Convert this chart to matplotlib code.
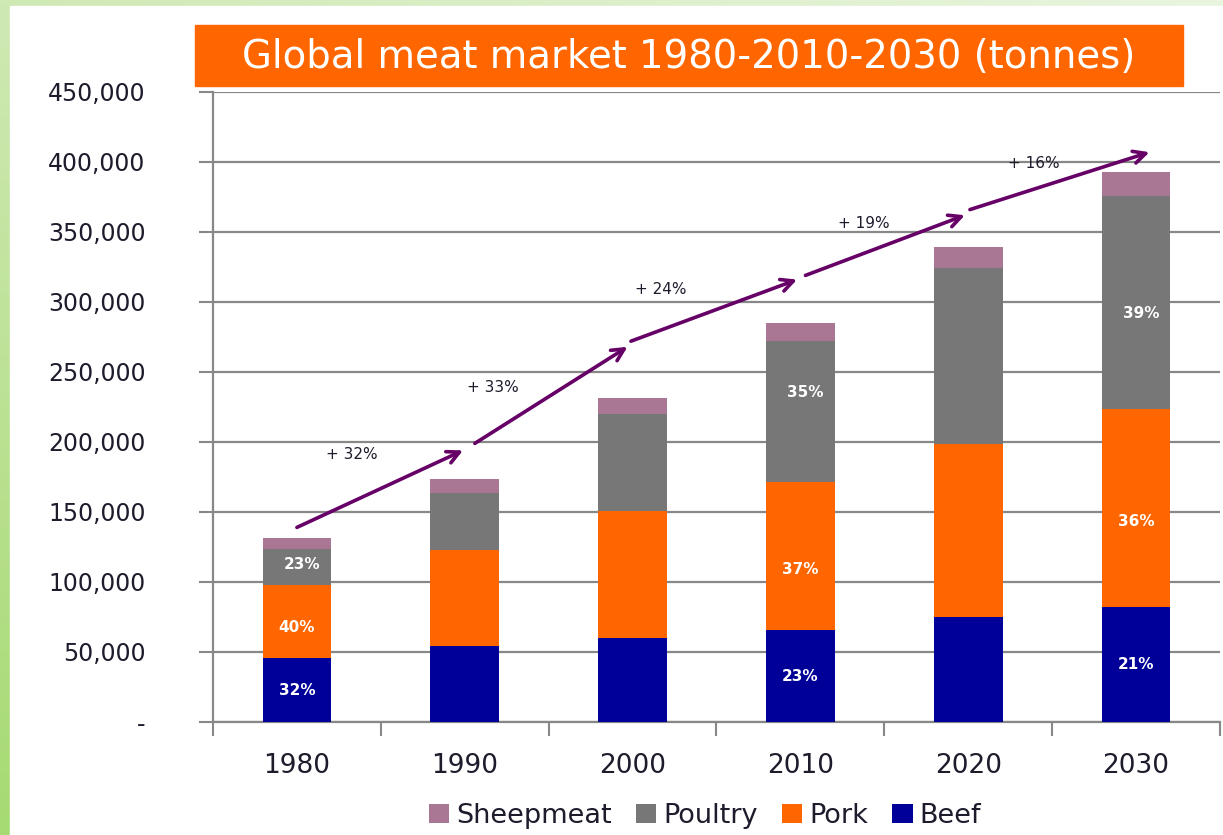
import numpy as np
import matplotlib
matplotlib.use("Agg")
import matplotlib.pyplot as plt
from matplotlib.patches import Rectangle
from matplotlib.colors import to_rgb

# ---- data (tonnes) ----
years = ["1980", "1990", "2000", "2010", "2020", "2030"]
beef = [45500, 54500, 60000, 65700, 75200, 82100]
pork = [52400, 68400, 90700, 105500, 123100, 141500]
poultry = [25500, 40700, 69300, 100800, 125700, 152100]
sheepmeat = [7800, 10000, 11400, 13200, 15500, 17300]

# share labels shown inside the bars (None = no label)
beef_pct = ["32%", None, None, "23%", None, "21%"]
pork_pct = ["40%", None, None, "37%", None, "36%"]
poultry_pct = ["23%", None, None, "35%", None, "39%"]

growth_labels = ["+ 32%", "+ 33%", "+ 24%", "+ 19%", "+ 16%"]

ytick_vals = [0, 50000, 100000, 150000, 200000, 250000, 300000, 350000, 400000, 450000]

# ---- styling / layout ----
c_beef = "#000099"
c_pork = "#FF6600"
c_poultry = "#777777"
c_sheep = "#A97694"
c_arrow = "#660066"
txt_col = "#1c1c2c"

# arrow segments (x in category units, y in tonnes)
arrow_segs = [((0.0, 139000), (0.99, 194000)),
              ((1.06, 199000), (1.97, 268000)),
              ((1.99, 272000), (2.98, 316000)),
              ((3.03, 319000), (3.98, 362000)),
              ((4.01, 366000), (5.08, 407000))]
growth_pos = [(0.33, 191000), (1.17, 239000), (2.17, 309000), (3.38, 356000), (4.39, 399000)]
# vertical position of the share labels inside each segment (fraction of segment height)
beef_lab_frac = 0.5
pork_lab_frac = [0.42, 0, 0, 0.41, 0, 0.43]
poultry_lab_frac = [0.56, 0, 0, 0.64, 0, 0.45]

W, H = 1223, 835
fig = plt.figure(figsize=(W / 100, H / 100), dpi=100)

# green gradient frame behind the white chart area
bg = fig.add_axes([0, 0, 1, 1])
bg.set_axis_off()
tl, bl, tr = np.array(to_rgb("#cfe9b4")), np.array(to_rgb("#a6da72")), np.array(to_rgb("#e9f5df"))
yy, xx = np.mgrid[0:1:200j, 0:1:300j]
img = tl[None, None, :] + yy[..., None] * (bl - tl)[None, None, :] + xx[..., None] * (tr - tl)[None, None, :]
bg.imshow(np.clip(img, 0, 1), extent=[0, 1, 0, 1], aspect="auto", origin="upper")
bg.add_patch(Rectangle((10 / W, 0), 1, 1 - 6 / H, color="white", transform=bg.transAxes))
bg.set_xlim(0, 1)
bg.set_ylim(0, 1)

# title box
fig.patches.append(Rectangle((195 / W, 1 - 86 / H), (1183 - 195) / W, 61 / H,
                             transform=fig.transFigure, color="#FF6600", zorder=1))
fig.text((195 + 1183) / 2 / W, 1 - 57 / H, "Global meat market 1980-2010-2030 (tonnes)",
         ha="center", va="center", color="white", fontsize=27.8, zorder=2)

ax = fig.add_axes([213 / W, 1 - 722 / H, (1220 - 213) / W, (722 - 92) / H])
ax.set_facecolor("none")

x = np.arange(len(years))
bw = 0.41
b1 = np.array(beef)
b2 = b1 + np.array(pork)
b3 = b2 + np.array(poultry)
ax.bar(x, beef, bw, color=c_beef, label="Beef", zorder=3)
ax.bar(x, pork, bw, bottom=b1, color=c_pork, label="Pork", zorder=3)
ax.bar(x, poultry, bw, bottom=b2, color=c_poultry, label="Poultry", zorder=3)
ax.bar(x, sheepmeat, bw, bottom=b3, color=c_sheep, label="Sheepmeat", zorder=3)

# share labels
for i in range(len(years)):
    if beef_pct[i]:
        ax.text(x[i], beef[i] * beef_lab_frac, beef_pct[i], ha="center", va="center",
                color="white", fontsize=11, fontweight="bold", zorder=4)
    if pork_pct[i]:
        ax.text(x[i], b1[i] + pork[i] * pork_lab_frac[i], pork_pct[i], ha="center", va="center",
                color="white", fontsize=11, fontweight="bold", zorder=4)
    if poultry_pct[i]:
        ax.text(x[i] + 0.03, b2[i] + poultry[i] * poultry_lab_frac[i], poultry_pct[i], ha="center",
                va="center", color="white", fontsize=11, fontweight="bold", zorder=4)

# growth arrows
for (p0, p1), lab, (lx, ly) in zip(arrow_segs, growth_labels, growth_pos):
    ax.annotate("", xy=p1, xytext=p0,
                arrowprops=dict(arrowstyle="->", color=c_arrow, lw=2.6,
                                mutation_scale=22, shrinkA=0, shrinkB=0), zorder=5)
    ax.text(lx, ly, lab, ha="center", va="center", fontsize=11, color=txt_col, zorder=5)

ax.set_xlim(-0.5, len(years) - 0.5)
ax.set_ylim(0, 450000)
ax.set_yticks(ytick_vals)
ax.set_yticklabels(["-" if v == 0 else f"{v:,}" for v in ytick_vals])
ax.set_xticks(x)
ax.set_xticklabels(years)
ax.set_xticks(np.arange(-0.5, len(years)), minor=True)
ax.tick_params(axis="x", which="major", length=0, pad=22, labelsize=19, labelcolor=txt_col)
ax.tick_params(axis="x", which="minor", length=10, width=1.5, color="#888888", direction="out")
ax.tick_params(axis="y", length=10, width=1.5, color="#888888", pad=38.5, labelsize=17,
               labelcolor=txt_col)
ax.grid(axis="y", color="#888888", linewidth=1.6, zorder=0)
for side in ["top", "right"]:
    ax.spines[side].set_visible(False)
for side in ["left", "bottom"]:
    ax.spines[side].set_color("#888888")
    ax.spines[side].set_linewidth(1.6)

handles, labels = ax.get_legend_handles_labels()
fig.legend(handles[::-1], labels[::-1], loc="center", bbox_to_anchor=(705 / W, 1 - 816 / H),
           ncol=4, frameon=False, fontsize=19.5, handlelength=0.75, handleheight=0.75,
           handletextpad=0.25, columnspacing=0.9, labelcolor=txt_col)

fig.savefig("out.png", dpi=100)
